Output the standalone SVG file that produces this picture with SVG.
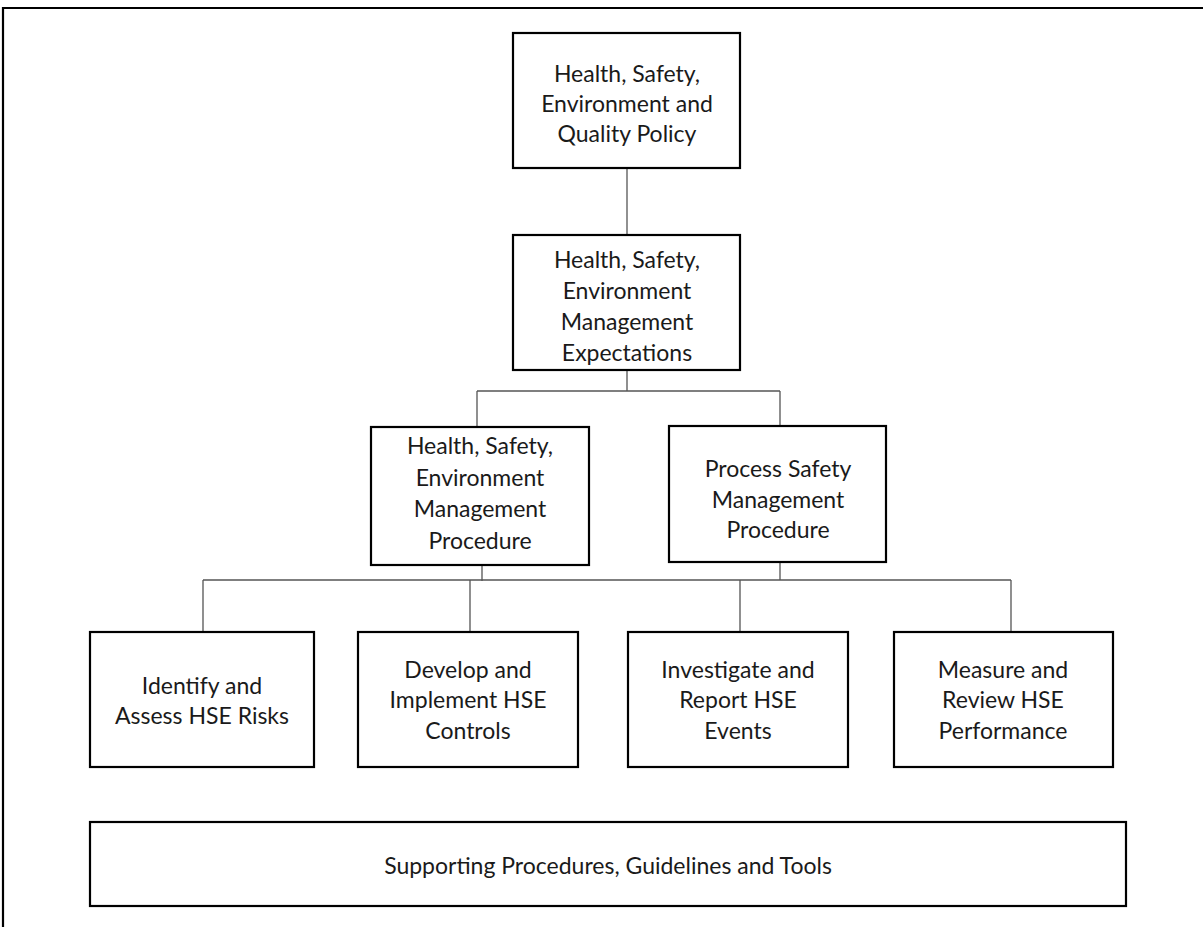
<svg xmlns="http://www.w3.org/2000/svg" width="1203" height="927" viewBox="0 0 1203 927">
<style>
.box{fill:#fff;stroke:#000;stroke-width:2.2}
.t{font-family:Lato,"Open Sans","Liberation Sans",sans-serif;font-size:23px;fill:#1a1a1a;text-anchor:middle}
.c{stroke:#555;stroke-width:1.3;fill:none}
</style>
<rect width="1203" height="927" fill="#fff"/>
<path d="M3 927 V8 H1203" fill="none" stroke="#000" stroke-width="2.2"/>
<g id="connectors">
<path class="c" d="M627 168 V235"/>
<path class="c" d="M627 370 V391 M477 391 H780 M477 391 V427 M780 391 V426"/>
<path class="c" d="M482 565 V581 M780 562 V580 M203 580 H1011 M203 580 V632 M470 580 V632 M740 580 V632 M1011 580 V632"/>
</g>
<g id="policy">
<rect class="box" x="513" y="33" width="227" height="135"/>
<text class="t" x="627" y="82">Health, Safety,</text>
<text class="t" x="627" y="112">Environment and</text>
<text class="t" x="627" y="142">Quality Policy</text>
</g>
<g id="expectations">
<rect class="box" x="513" y="235" width="227" height="135"/>
<text class="t" x="627" y="268">Health, Safety,</text>
<text class="t" x="627" y="299">Environment</text>
<text class="t" x="627" y="330">Management</text>
<text class="t" x="627" y="361">Expectations</text>
</g>
<g id="hse-procedure">
<rect class="box" x="371" y="427" width="218" height="138"/>
<text class="t" x="480" y="454">Health, Safety,</text>
<text class="t" x="480" y="486">Environment</text>
<text class="t" x="480" y="517">Management</text>
<text class="t" x="480" y="549">Procedure</text>
</g>
<g id="psm-procedure">
<rect class="box" x="669" y="426" width="217" height="136"/>
<text class="t" x="778" y="477">Process Safety</text>
<text class="t" x="778" y="508">Management</text>
<text class="t" x="778" y="538">Procedure</text>
</g>
<g id="identify">
<rect class="box" x="90" y="632" width="224" height="135"/>
<text class="t" x="202" y="694">Identify and</text>
<text class="t" x="202" y="724">Assess HSE Risks</text>
</g>
<g id="develop">
<rect class="box" x="358" y="632" width="220" height="135"/>
<text class="t" x="468" y="678">Develop and</text>
<text class="t" x="468" y="708">Implement HSE</text>
<text class="t" x="468" y="739">Controls</text>
</g>
<g id="investigate">
<rect class="box" x="628" y="632" width="220" height="135"/>
<text class="t" x="738" y="678">Investigate and</text>
<text class="t" x="738" y="708">Report HSE</text>
<text class="t" x="738" y="739">Events</text>
</g>
<g id="measure">
<rect class="box" x="894" y="632" width="219" height="135"/>
<text class="t" x="1003" y="678">Measure and</text>
<text class="t" x="1003" y="708">Review HSE</text>
<text class="t" x="1003" y="739">Performance</text>
</g>
<g id="supporting">
<rect class="box" x="90" y="822" width="1036" height="84"/>
<text class="t" x="608" y="874">Supporting Procedures, Guidelines and Tools</text>
</g>
</svg>
